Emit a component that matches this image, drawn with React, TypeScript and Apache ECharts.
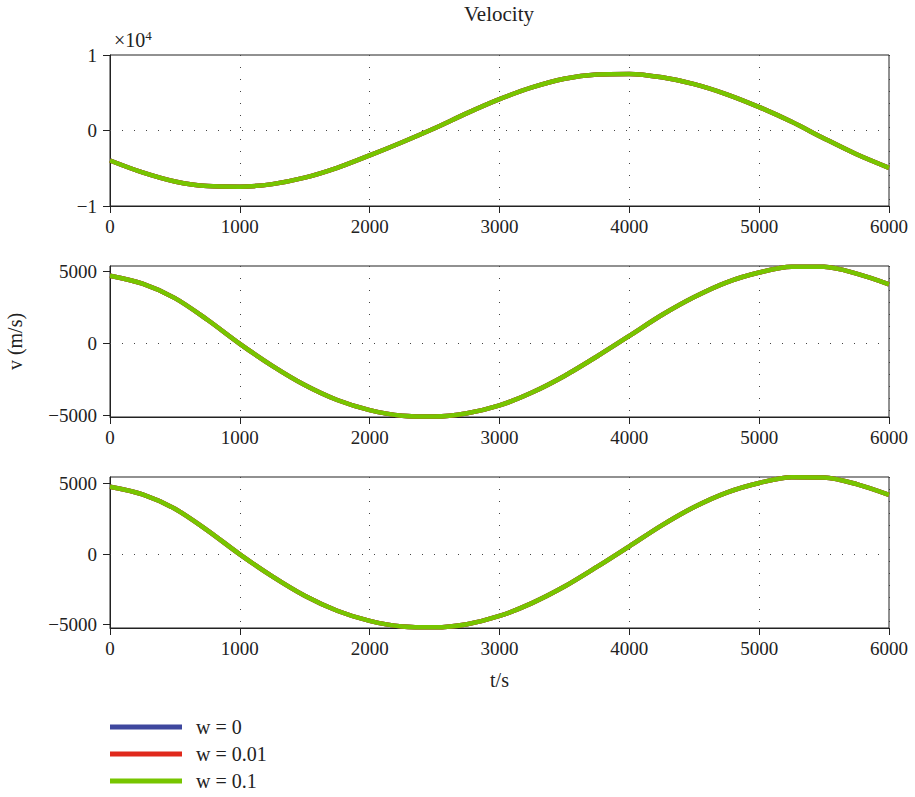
import React, { useEffect, useRef } from "react";
import * as echarts from "echarts";

const timeS = [0, 250, 500, 750, 1000, 1250, 1500, 1750, 2000, 2250, 2500, 2750, 3000, 3250, 3500, 3750, 4000, 4250, 4500, 4750, 5000, 5250, 5500, 5750, 6000];

// Panel 1 (×10^4 scale), all three w curves overlap
const panel1 = [-3970, -5550, -6750, -7360, -7440, -7100, -6250, -4950, -3300, -1550, 300, 2300, 4150, 5700, 6850, 7420, 7500, 7050, 6150, 4800, 3100, 1150, -1050, -3150, -4950];
// Panel 2
const panel2 = [4700, 4150, 3150, 1650, -20, -1550, -2880, -3920, -4620, -5010, -5070, -4840, -4300, -3400, -2250, -900, 530, 1980, 3230, 4250, 4930, 5330, 5320, 4850, 4110];
// Panel 3
const panel3 = [4760, 4220, 3200, 1680, -20, -1580, -2950, -4010, -4730, -5120, -5180, -4960, -4380, -3470, -2300, -910, 550, 2030, 3330, 4350, 5030, 5430, 5410, 4950, 4190];

const seriesNames = ["w = 0", "w = 0.01", "w = 0.1"];
const seriesColors = ["#3e479e", "#e0291c", "#77c500"];
const p23Ticks = [-5000, 0, 5000];

const FONT = "Liberation Serif";
const FS = 19;

export default function App() {
  const ref = useRef<HTMLDivElement>(null);
  useEffect(() => {
    if (!ref.current) return;
    const chart = echarts.init(ref.current, undefined, { renderer: "svg" });
    const panels = [panel1, panel2, panel3];
    const gridTops = [55, 266, 477];
    const gridH = 151;
    const minus = (v: number) => (v < 0 ? "\u2212" + String(-v) : String(v));

    const grids = gridTops.map((top) => ({
      left: 110,
      top,
      width: 779,
      height: gridH,
      show: true,
      borderColor: "#222",
      borderWidth: 1,
      backgroundColor: "transparent",
      containLabel: false,
      outerBoundsMode: "none",
    }));

    const xAxes = gridTops.map((_, i) => ({
      type: "value",
      gridIndex: i,
      min: 0,
      max: 6000,
      interval: 1000,
      axisLine: { show: true, onZero: false, lineStyle: { color: "#222", width: 1 } },
      axisTick: { show: true, length: 7, lineStyle: { color: "#222" } },
      axisLabel: { color: "#222", fontFamily: FONT, fontSize: FS, margin: 11, formatter: (v: number) => String(v) },
      splitLine: { show: true, lineStyle: { color: "#444", type: [1, 11], width: 1 } },
      name: i === 2 ? "t/s" : "",
      nameLocation: "middle",
      nameGap: 42,
      nameTextStyle: { color: "#222", fontFamily: FONT, fontSize: 20 },
    }));

    const yAxes = [
      {
        type: "value",
        gridIndex: 0,
        min: -10000,
        max: 10000,
        interval: 10000,
        axisLine: { show: true, onZero: false, lineStyle: { color: "#222", width: 1 } },
        axisTick: { show: true, length: 7, lineStyle: { color: "#222" } },
        axisLabel: {
          color: "#222",
          fontFamily: FONT,
          fontSize: FS,
          margin: 13,
          formatter: (v: number) => minus(Math.round(v / 10000)),
        },
        splitLine: { show: false },
      },
      {
        type: "value",
        gridIndex: 1,
        min: -5100,
        max: 5380,
        axisLine: { show: true, onZero: false, lineStyle: { color: "#222", width: 1 } },
        axisTick: { show: true, length: 7, lineStyle: { color: "#222" }, customValues: p23Ticks },
        axisLabel: {
          color: "#222",
          fontFamily: FONT,
          fontSize: FS,
          margin: 13,
          customValues: p23Ticks,
          formatter: (v: number) => minus(v),
        },
        splitLine: { show: false },
        name: "v (m/s)",
        nameLocation: "middle",
        nameGap: 85,
        nameRotate: 90,
        nameTextStyle: { color: "#222", fontFamily: FONT, fontSize: 20 },
      },
      {
        type: "value",
        gridIndex: 2,
        min: -5230,
        max: 5450,
        axisLine: { show: true, onZero: false, lineStyle: { color: "#222", width: 1 } },
        axisTick: { show: true, length: 7, lineStyle: { color: "#222" }, customValues: p23Ticks },
        axisLabel: {
          color: "#222",
          fontFamily: FONT,
          fontSize: FS,
          margin: 13,
          customValues: p23Ticks,
          formatter: (v: number) => minus(v),
        },
        splitLine: { show: false },
      },
    ];

    const series: any[] = [];
    panels.forEach((vals, gi) => {
      seriesNames.forEach((name, si) => {
        const s: any = {
          type: "line",
          name,
          xAxisIndex: gi,
          yAxisIndex: gi,
          data: timeS.map((t, k) => [t, vals[k]]),
          showSymbol: false,
          symbol: "none",
          smooth: 0.3,
          color: seriesColors[si],
          lineStyle: { width: 4.5, color: seriesColors[si] },
          z: 2 + si,
        };
        if (si === 0) {
          s.markLine = {
            silent: true,
            symbol: "none",
            label: { show: false },
            lineStyle: { type: [1, 11], color: "#444", width: 1 },
            data: [{ yAxis: 0 }],
            z: 1,
          };
        }
        series.push(s);
      });
    });

    chart.setOption({
      animation: false,
      backgroundColor: "#fff",
      title: {
        text: "Velocity",
        left: 499,
        textAlign: "center",
        top: 3,
        padding: 0,
        textStyle: { color: "#222", fontFamily: FONT, fontSize: 21, fontWeight: "normal" },
      },
      legend: {
        data: seriesNames,
        orient: "vertical",
        left: 110,
        top: 717,
        padding: 0,
        icon: "rect",
        itemWidth: 72,
        itemHeight: 5,
        itemGap: 7,
        textStyle: { color: "#222", fontFamily: FONT, fontSize: 20, lineHeight: 20, padding: [0, 0, 0, 9] },
      },
      graphic: [
        {
          type: "text",
          left: 114,
          top: 29,
          style: {
            text: "×10{s|4}",
            rich: { s: { fontSize: 13, verticalAlign: "top", fontFamily: FONT, fill: "#222", padding: [0, 0, 8, 0] } },
            font: `20px "${FONT}"`,
            fill: "#222",
          },
        },
      ],
      grid: grids,
      xAxis: xAxes,
      yAxis: yAxes,
      series,
    });
    return () => chart.dispose();
  }, []);
  return <div ref={ref} style={{ position: "fixed", left: 0, top: 0, width: 915, height: 797 }} />;
}
